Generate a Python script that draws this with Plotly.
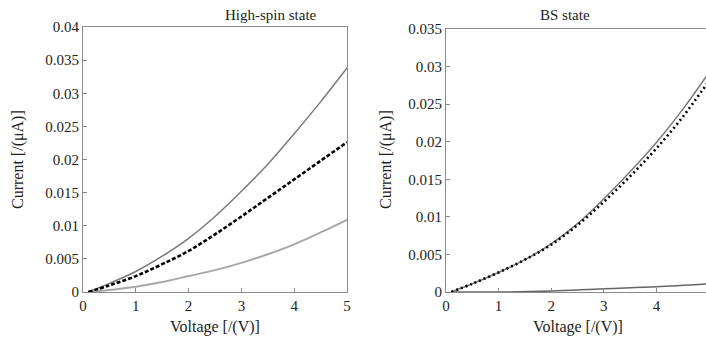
import plotly.graph_objects as go

# ---- data ----
voltage = [0.1, 0.5, 1.0, 1.5, 2.0, 2.5, 3.0, 3.5, 4.0, 4.5, 5.0]

hs_upper = [0.0, 0.0013, 0.0031, 0.0054, 0.0081, 0.0114, 0.0152, 0.0193, 0.0239, 0.0287, 0.0338]
hs_dashed = [0.0, 0.0010, 0.0024, 0.0042, 0.0062, 0.0087, 0.0114, 0.0142, 0.0170, 0.0198, 0.0226]
hs_lower = [0.0, 0.0003, 0.0008, 0.0015, 0.0024, 0.0033, 0.0044, 0.0057, 0.0072, 0.0090, 0.0109]

bs_upper = [0.0, 0.0011, 0.0026, 0.0043, 0.0064, 0.0091, 0.0124, 0.0160, 0.0199, 0.0243, 0.0292]
bs_dotted = [0.0, 0.0011, 0.0026, 0.0043, 0.0063, 0.0089, 0.0120, 0.0154, 0.0191, 0.0233, 0.0281]
bs_lower_v = [0.1, 1.15, 2.0, 3.0, 4.0, 5.0]
bs_lower = [0.0, 0.0, 0.00013, 0.00044, 0.0007, 0.0011]

x_ticks = [0, 1, 2, 3, 4, 5]
hs_yticks = [0, 0.005, 0.01, 0.015, 0.02, 0.025, 0.03, 0.035, 0.04]
hs_ytext = ["0", "0.005", "0.01", "0.015", "0.02", "0.025", "0.03", "0.035", "0.04"]
bs_yticks = [0, 0.005, 0.01, 0.015, 0.02, 0.025, 0.03, 0.035]
bs_ytext = ["0", "0.005", "0.01", "0.015", "0.02", "0.025", "0.03", "0.035"]

titles = ["High-spin state", "BS state"]
x_title = "Voltage [/(V)]"
y_title = "Current [/(μA)]"

FONT = "Liberation Serif, Times New Roman, serif"
W, H = 706, 343


def px_x(p):
    return p / W


def px_y(p):
    return 1 - p / H


fig = go.Figure()
gray = "#7a7a7a"
light = "#a8a8a8"

fig.add_trace(go.Scatter(x=voltage, y=hs_lower, mode="lines", line=dict(color=light, width=2.0, shape="spline"),
                         xaxis="x", yaxis="y", showlegend=False))
fig.add_trace(go.Scatter(x=voltage, y=hs_upper, mode="lines", line=dict(color=gray, width=1.5, shape="spline"),
                         xaxis="x", yaxis="y", showlegend=False))
fig.add_trace(go.Scatter(x=voltage, y=hs_dashed, mode="lines",
                         line=dict(color="black", width=2.6, dash="4px,2px", shape="spline"),
                         xaxis="x", yaxis="y", showlegend=False))

fig.add_trace(go.Scatter(x=bs_lower_v, y=bs_lower, mode="lines", line=dict(color="#666666", width=1.5, shape="spline"),
                         xaxis="x2", yaxis="y2", showlegend=False))
fig.add_trace(go.Scatter(x=voltage, y=bs_upper, mode="lines", line=dict(color=gray, width=1.5, shape="spline"),
                         xaxis="x2", yaxis="y2", showlegend=False))
fig.add_trace(go.Scatter(x=voltage, y=bs_dotted, mode="lines",
                         line=dict(color="black", width=2.6, dash="2px,3px", shape="spline"),
                         xaxis="x2", yaxis="y2", showlegend=False))

x1d = [px_x(83), px_x(347)]
x2d = [px_x(446), 1.0]
y1d = [px_y(292), px_y(27)]
y2d = [px_y(292), px_y(29)]

axis_common = dict(showgrid=False, zeroline=False, showline=True, linecolor="#8a8a8a", linewidth=1,
                   ticks="inside", ticklen=4, tickcolor="#8a8a8a",
                   tickfont=dict(family=FONT, size=15, color="#222"), automargin=False)

fig.update_layout(
    width=W, height=H,
    margin=dict(l=0, r=0, t=0, b=0),
    paper_bgcolor="white", plot_bgcolor="white",
    xaxis=dict(domain=x1d, range=[0, 5], tickvals=x_ticks, ticktext=[str(t) for t in x_ticks],
               mirror=True, anchor="y", **axis_common),
    yaxis=dict(domain=y1d, range=[0, 0.04], tickvals=hs_yticks, ticktext=hs_ytext,
               mirror=True, anchor="x", **axis_common),
    xaxis2=dict(domain=x2d, range=[0, (706 - 446) / 52.6], tickvals=x_ticks, ticktext=[str(t) for t in x_ticks],
                mirror=True, anchor="y2", **axis_common),
    yaxis2=dict(domain=y2d, range=[0, 0.035], tickvals=bs_yticks, ticktext=bs_ytext,
                mirror=False, anchor="x2", **axis_common),
)

tfont = dict(family=FONT, size=16, color="#222")
ann = [
    dict(text=titles[0], x=px_x(271), y=px_y(15), font=dict(family=FONT, size=15, color="#222")),
    dict(text=titles[1], x=px_x(565), y=px_y(15), font=dict(family=FONT, size=15, color="#222")),
    dict(text=x_title, x=px_x(215), y=px_y(327), font=tfont),
    dict(text=x_title, x=px_x(578), y=px_y(327), font=tfont),
    dict(text=y_title, x=px_x(18), y=px_y(160), textangle=-90, font=tfont),
    dict(text=y_title, x=px_x(386), y=px_y(160), textangle=-90, font=tfont),
]
for a in ann:
    a.update(xref="paper", yref="paper", showarrow=False, xanchor="center", yanchor="middle")
fig.update_layout(annotations=ann)

fig.write_html("out.html", config={"displayModeBar": False},
               post_script="document.body.style.margin='0';document.body.style.overflow='hidden';")
